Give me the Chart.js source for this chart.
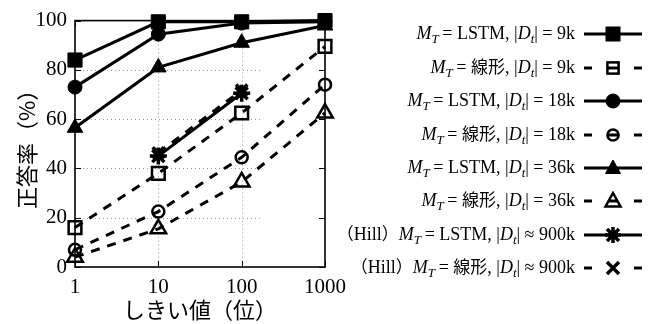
<!DOCTYPE html>
<html lang="ja">
<head>
<meta charset="utf-8">
<script src="https://cdn.jsdelivr.net/npm/chart.js@4.4.1/dist/chart.umd.min.js"></script>
<style>
  html, body { margin: 0; padding: 0; background: #fff; }
  #wrap { position: relative; width: 652px; height: 324px; overflow: hidden; }
  #grafico { position: absolute; left: 0; top: 0; }
  .fila {
    position: absolute; right: 77px; height: 22px; line-height: 22px;
    font: 18px "Liberation Serif", serif; color: #000;
    white-space: nowrap; text-align: right;
  }
  .fila sub { font-size: 0.72em; vertical-align: -0.3em; line-height: 0; }
  .fila .ja { font-family: "Noto Sans CJK JP", sans-serif; font-size: 17px; line-height: 0; }
  .muestra { position: absolute; left: 584px; width: 58px; height: 20px; }
</style>
</head>
<body>
<div id="wrap">
  <canvas id="grafico" width="652" height="324"></canvas>
  <div id="leyenda"></div>
</div>
<script>
// Datos
const umbrales = [1, 10, 100, 1000];
const umbralesHill = [10, 100];
const lstm9k = [84, 99.5, 99.5, 100];
const lineal9k = [16, 38, 62.5, 89.5];
const lstm18k = [73, 94.5, 99, 99.5];
const lineal18k = [7, 22.5, 44.5, 74];
const lstm36k = [56.5, 81, 91, 98];
const lineal36k = [4, 15.5, 34.5, 62.5];
const hillLstm = [45, 70.5];
const hillLineal = [46.3, 71.8];
const ticksX = [1, 10, 100, 1000];
const ticksY = [0, 20, 40, 60, 80, 100];

// Leyenda
const prefijos = ['', '', '', '', '', '', '（Hill）', '（Hill）'];
const modelos = ['LSTM', '線形', 'LSTM', '線形', 'LSTM', '線形', 'LSTM', '線形'];
const relaciones = ['=', '=', '=', '=', '=', '=', '≈', '≈'];
const tamanos = ['9k', '9k', '18k', '18k', '36k', '36k', '900k', '900k'];

// Estilo de cada serie (marcador, discontinua, relleno)
const series = [
  { xs: umbrales, ys: lstm9k, marca: 'rect', radio: 10, dash: false, lleno: true },
  { xs: umbrales, ys: lineal9k, marca: 'rect', radio: 9, dash: true, lleno: false },
  { xs: umbrales, ys: lstm18k, marca: 'circle', radio: 7, dash: false, lleno: true },
  { xs: umbrales, ys: lineal18k, marca: 'circle', radio: 6, dash: true, lleno: false },
  { xs: umbrales, ys: lstm36k, marca: 'triangle', radio: 9, dash: false, lleno: true },
  { xs: umbrales, ys: lineal36k, marca: 'triangle', radio: 9, dash: true, lleno: false },
  { xs: umbralesHill, ys: hillLstm, marca: 'star', radio: 8.5, dash: false, lleno: true },
  { xs: umbralesHill, ys: hillLineal, marca: 'crossRot', radio: 8, dash: true, lleno: true }
];

const FUENTE_NUM = { family: 'Liberation Serif', size: 21 };
const FUENTE_JA = { family: 'Noto Sans CJK JP', size: 22, lineHeight: 1.2 };

// Marco, rejilla punteada y marcas hacia dentro
const marcoPlugin = {
  id: 'marco',
  beforeDatasetsDraw(chart) {
    const { ctx, chartArea: a, scales: { x, y } } = chart;
    ctx.save();
    ctx.strokeStyle = '#9a9a9a';
    ctx.lineWidth = 1;
    ctx.setLineDash([1, 3]);
    ctx.beginPath();
    [10, 100].forEach(v => {
      const px = Math.round(x.getPixelForValue(v)) + 0.5;
      ctx.moveTo(px, a.top);
      ctx.lineTo(px, a.bottom);
    });
    const finRejilla = a.left + a.width * 0.745;
    [20, 40, 60, 80].forEach(v => {
      const py = Math.round(y.getPixelForValue(v)) + 0.5;
      ctx.moveTo(a.left, py);
      ctx.lineTo(finRejilla, py);
    });
    ctx.stroke();
    ctx.setLineDash([]);

    ctx.strokeStyle = '#000';
    ctx.lineWidth = 1;
    ctx.beginPath();
    ticksY.forEach(v => {
      const py = Math.round(y.getPixelForValue(v)) + 0.5;
      ctx.moveTo(a.left, py); ctx.lineTo(a.left + 6, py);
      ctx.moveTo(a.right, py); ctx.lineTo(a.right - 6, py);
    });
    ticksX.forEach(v => {
      const px = Math.round(x.getPixelForValue(v)) + 0.5;
      ctx.moveTo(px, a.bottom); ctx.lineTo(px, a.bottom - 6);
      ctx.moveTo(px, a.top); ctx.lineTo(px, a.top + 6);
    });
    ctx.stroke();

    ctx.lineWidth = 1.6;
    ctx.strokeRect(a.left, a.top, a.width, a.height);
    ctx.restore();
  }
};

function crearGrafico() {
  const ctx = document.getElementById('grafico').getContext('2d');
  return new Chart(ctx, {
    type: 'line',
    data: {
      datasets: series.map((s, i) => ({
        label: modelos[i] + ' ' + tamanos[i],
        data: s.xs.map((x, j) => ({ x: x, y: s.ys[j] })),
        borderColor: '#000',
        backgroundColor: '#000',
        borderWidth: 3,
        borderDash: s.dash ? [9, 8] : [],
        tension: 0,
        clip: false,
        pointStyle: s.marca,
        pointRadius: s.radio,
        pointHoverRadius: s.radio,
        pointBorderWidth: s.lleno ? (s.marca === 'star' || s.marca === 'crossRot' ? 3.5 : 1) : 2.5,
        pointBorderColor: '#000',
        pointBackgroundColor: s.lleno ? '#000' : 'rgba(0,0,0,0)'
      }))
    },
    options: {
      responsive: false,
      animation: false,
      devicePixelRatio: 1,
      events: [],
      layout: { padding: { left: 0, top: 18, right: 327, bottom: 0 } },
      plugins: { legend: { display: false }, tooltip: { enabled: false } },
      scales: {
        x: {
          type: 'logarithmic',
          min: 1,
          max: 1000,
          afterBuildTicks: s => { s.ticks = ticksX.map(v => ({ value: v })); },
          afterFit: s => { s.height = 57; },
          grid: { display: false, drawTicks: false },
          border: { display: false },
          ticks: {
            callback: v => String(v),
            font: FUENTE_NUM,
            color: '#000',
            padding: 8,
            maxRotation: 0,
            autoSkip: false
          },
          title: {
            display: true,
            text: 'しきい値（位）',
            font: FUENTE_JA,
            color: '#000',
            padding: { top: 0, bottom: 1 }
          }
        },
        y: {
          min: 0,
          max: 100,
          afterBuildTicks: s => { s.ticks = ticksY.map(v => ({ value: v })); },
          afterFit: s => { s.width = 75; },
          grid: { display: false, drawTicks: false },
          border: { display: false },
          ticks: { font: FUENTE_NUM, color: '#000', padding: 8 },
          title: {
            display: true,
            text: '正答率（%）',
            font: FUENTE_JA,
            color: '#000',
            padding: { top: 13, bottom: 0 }
          }
        }
      }
    },
    plugins: [marcoPlugin]
  });
}

// Muestra de la leyenda (linea + marcador)
function muestraSvg(s) {
  const cx = 29, cy = 10;
  let linea = s.dash
    ? `<line x1="0" y1="${cy}" x2="58" y2="${cy}" stroke="#000" stroke-width="3" stroke-dasharray="8 16 10 16 8"/>`
    : `<line x1="0" y1="${cy}" x2="58" y2="${cy}" stroke="#000" stroke-width="3"/>`;
  const relleno = s.lleno ? '#000' : 'none';
  const grosor = s.lleno ? 1 : 2.5;
  let marca = '';
  if (s.marca === 'rect') {
    const h = s.lleno ? 7 : 5.6;
    marca = `<rect x="${cx - h}" y="${cy - h}" width="${2 * h}" height="${2 * h}" fill="${relleno}" stroke="#000" stroke-width="${grosor}"/>`;
  } else if (s.marca === 'circle') {
    marca = `<circle cx="${cx}" cy="${cy}" r="${s.lleno ? 7 : 5.6}" fill="${relleno}" stroke="#000" stroke-width="${grosor}"/>`;
  } else if (s.marca === 'triangle') {
    marca = `<polygon points="${cx},${cy - 8} ${cx + 7.5},${cy + 5.5} ${cx - 7.5},${cy + 5.5}" fill="${relleno}" stroke="#000" stroke-width="${grosor}"/>`;
  } else if (s.marca === 'star') {
    marca = `<path d="M${cx - 8} ${cy}H${cx + 8}M${cx} ${cy - 8}V${cy + 8}M${cx - 6} ${cy - 6}L${cx + 6} ${cy + 6}M${cx - 6} ${cy + 6}L${cx + 6} ${cy - 6}" stroke="#000" stroke-width="3.5"/>`;
  } else if (s.marca === 'crossRot') {
    marca = `<path d="M${cx - 6} ${cy - 6}L${cx + 6} ${cy + 6}M${cx - 6} ${cy + 6}L${cx + 6} ${cy - 6}" stroke="#000" stroke-width="3.5"/>`;
    linea = `<line x1="0" y1="${cy}" x2="8" y2="${cy}" stroke="#000" stroke-width="3"/><line x1="50" y1="${cy}" x2="58" y2="${cy}" stroke="#000" stroke-width="3"/>`;
  }
  return `<svg class="muestra" viewBox="0 0 58 20">${linea}${marca}</svg>`;
}

// Texto japonés en su propia caja para no mover la línea base
function ja(texto) {
  return texto.replace(/[^\x00-\x7F≈]+/g, m => `<span class="ja">${m}</span>`);
}

function crearLeyenda() {
  const caja = document.getElementById('leyenda');
  series.forEach((s, i) => {
    const cy = 34.3 + i * 33.4;
    const fila = document.createElement('div');
    fila.className = 'fila';
    fila.style.top = (cy - 11) + 'px';
    fila.innerHTML = `${ja(prefijos[i])}<i>M</i><sub><i>T</i></sub>&thinsp;= ${ja(modelos[i])}, |<i>D</i><sub><i>t</i></sub>| ${relaciones[i]} ${tamanos[i]}`;
    caja.appendChild(fila);
    const tmp = document.createElement('div');
    tmp.innerHTML = muestraSvg(s);
    const svg = tmp.firstChild;
    svg.style.top = (cy - 10) + 'px';
    caja.appendChild(svg);
  });
}

crearGrafico();
crearLeyenda();
</script>
</body>
</html>
